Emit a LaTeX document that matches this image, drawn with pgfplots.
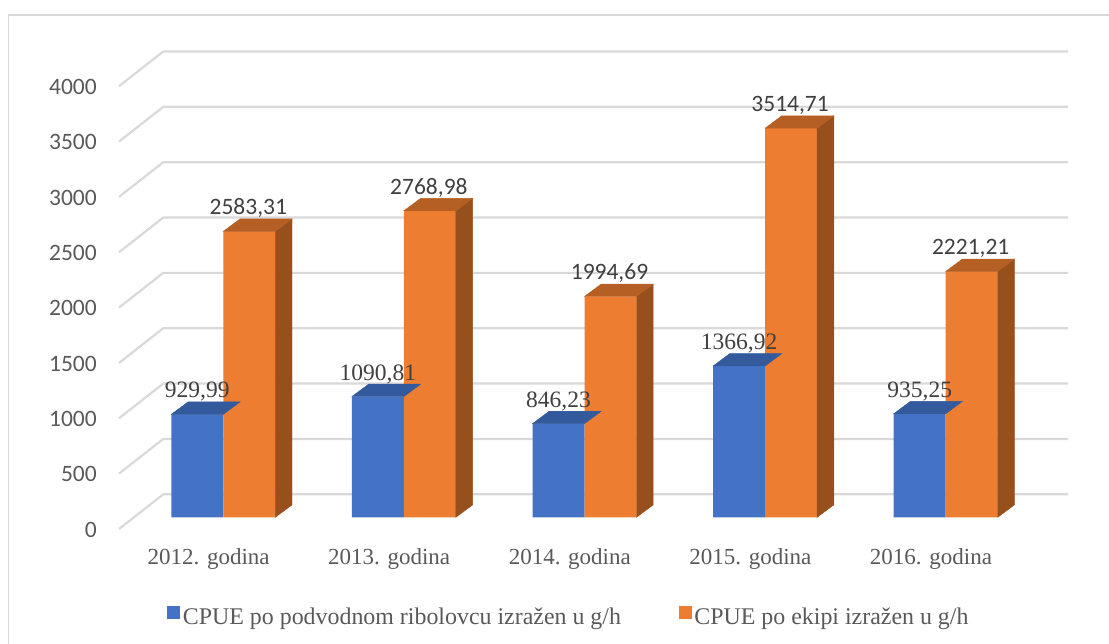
\documentclass[border=0pt]{standalone}
\usepackage{fontspec}
\setmainfont{Liberation Serif}
\newfontfamily\carlito{Carlito}
\usepackage{pgfplots}
\usepackage{pgfplotstable}
\pgfplotsset{compat=1.18}
\definecolor{cblue}{HTML}{4472C4}
\definecolor{cbluetop}{HTML}{335A9C}
\definecolor{corange}{HTML}{ED7D31}
\definecolor{corangetop}{HTML}{B65F24}
\definecolor{corangeside}{HTML}{974F1C}
\definecolor{cgrid}{HTML}{D9D9D9}
\definecolor{ctext}{HTML}{595959}
\definecolor{clabel}{HTML}{404040}
\newcommand\fs{\fontsize{23.5}{28}\selectfont}
\newcommand\fcat{\fontsize{23}{28}\selectfont}
\newcommand\fleg{\fontsize{23.9}{28}\selectfont}

\pgfplotstableread{
x y label
0 929.99 929,99
1 1090.81 1090,81
2 846.23 846,23
3 1366.92 1366,92
4 935.25 935,25
}\bluedata
\pgfplotstableread{
x y label
0 2583.31 2583,31
1 2768.98 2768,98
2 1994.69 1994,69
3 3514.71 3514,71
4 2221.21 2221,21
}\orangedata

\begin{document}
\begin{tikzpicture}[x=1pt,y=1pt]
\path[use as bounding box] (0,0) rectangle (1109,644);
\begin{scope}
\clip (0,0) rectangle (1109,644);
\draw[cgrid, line width=1.3pt] (8.3,-10) -- (8.3,629) -- (1120,629);
\end{scope}
\foreach \k in {0,...,8}{
  \pgfmathsetmacro\yb{149.7+55.35*\k}
  \pgfmathsetmacro\yf{115+55.35*\k}
  \draw[cgrid, line width=2.2pt] (119,\yf) -- (163.3,\yb) -- (1068,\yb);
}
\begin{axis}[
  at={(133pt,126.7pt)}, anchor=south west,
  x=180.6pt, y=0.1107pt,
  xmin=-0.5, xmax=4.5, ymin=0, ymax=4000,
  clip=false,
  axis line style={draw=none},
  major tick length=0pt,
  tick style={draw=none},
  scaled y ticks=false,
  ytick={0,500,...,4000},
  yticklabels={0,500,1000,1500,2000,2500,3000,3500,4000},
  yticklabel style={font=\carlito\fs, text=ctext, anchor=east, inner sep=0pt, xshift=-36pt, yshift=-12.5pt},
  xtick={0,1,2,3,4},
  xticklabels={2012. godina, 2013. godina, 2014. godina, 2015. godina, 2016. godina},
  xticklabel style={font=\fcat, text=ctext, anchor=base, inner sep=0pt, xshift=-14.7pt, yshift=-47.7pt},
  legend columns=2,
  legend cell align=left,
  legend style={draw=none, fill=none, inner sep=0pt, outer sep=0pt,
    at={(0.0382,-0.2236)}, anchor=west,
    font=\fleg, text=ctext,
    /tikz/every even column/.append style={column sep=55pt},
    nodes={inner sep=0pt, inner xsep=3pt}},
]
% blue top faces
\addplot[forget plot, scatter, only marks, mark=*, mark size=0pt, mark options={draw=none,fill=none},
  visualization depends on=rawy \as \rawy,
  scatter/@pre marker code/.code={%
    \fill[cbluetop] (-52pt,0pt) -- (0pt,0pt) -- (16.7pt,12.4pt) -- (-35.3pt,12.4pt) -- cycle;
  },
  scatter/@post marker code/.code={}]
  table[x=x,y=y]{\bluedata};
% blue front faces
\addplot[forget plot, ybar, bar width=52pt, bar shift=-26pt, fill=cblue, draw=none]
  table[x=x,y=y]{\bluedata};
% orange side and top faces
\addplot[forget plot, scatter, only marks, mark=*, mark size=0pt, mark options={draw=none,fill=none},
  visualization depends on=rawy \as \rawy,
  scatter/@pre marker code/.code={%
    \pgfmathsetlengthmacro\hh{\rawy*0.1107pt}%
    \fill[corangeside] (52pt,0pt) -- (68.7pt,12.4pt) -- (68.7pt,12.4pt-\hh) -- (52pt,-\hh) -- cycle;
    \fill[corangetop] (0pt,0pt) -- (52pt,0pt) -- (68.7pt,12.4pt) -- (16.7pt,12.4pt) -- cycle;
  },
  scatter/@post marker code/.code={}]
  table[x=x,y=y]{\orangedata};
% orange front faces
\addplot[forget plot, ybar, bar width=52pt, bar shift=26pt, fill=corange, draw=none]
  table[x=x,y=y]{\orangedata};
% labels
\addplot[forget plot, ybar, bar width=52pt, bar shift=-26pt, draw=none, fill=none,
  point meta=explicit symbolic, nodes near coords,
  nodes near coords style={font=\fs, text=clabel, anchor=base, inner sep=0pt, xshift=-26pt, yshift=16.5pt}]
  table[x=x, y=y, meta=label]{\bluedata};
\addplot[forget plot, ybar, bar width=52pt, bar shift=26pt, draw=none, fill=none,
  point meta=explicit symbolic, nodes near coords,
  nodes near coords style={font=\carlito\fs, text=clabel, anchor=base, inner sep=0pt, xshift=25pt, yshift=16.5pt}]
  table[x=x, y=y, meta=label]{\orangedata};
\addlegendimage{legend image code/.code={\fill[cblue] (0pt,-1.3pt) rectangle (12pt,10.7pt);}}
\addlegendentry{CPUE po podvodnom ribolovcu izražen u g/h}
\addlegendimage{legend image code/.code={\fill[corange] (0pt,-1.3pt) rectangle (12pt,10.7pt);}}
\addlegendentry{CPUE po ekipi izražen u g/h}
\end{axis}
\end{tikzpicture}
\end{document}
